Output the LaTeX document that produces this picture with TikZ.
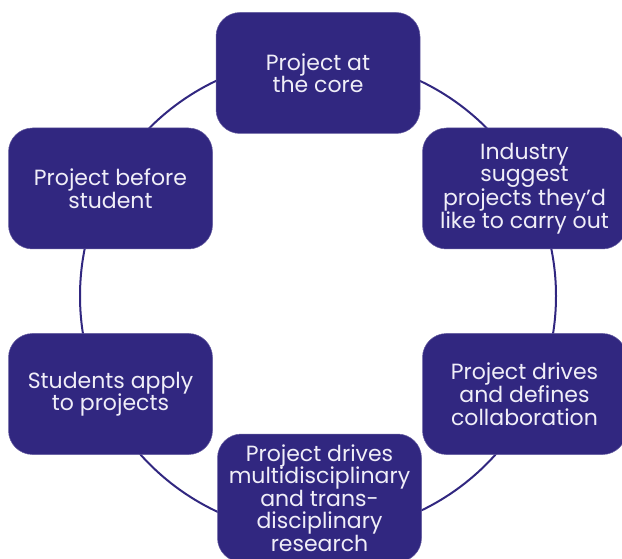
\documentclass[tikz,border=0pt]{standalone}
\usepackage{fontspec}
\setmainfont{Poppins}
\usetikzlibrary{positioning}
\definecolor{cyclepurple}{RGB}{49,39,128}
\definecolor{cyclelight}{RGB}{240,238,248}
\tikzstyle{stage} = [rectangle, rounded corners=24pt, minimum width=204pt, minimum height=121pt, inner sep=2pt, align=center, fill=cyclepurple, draw=cyclepurple!75!white, line width=0.5pt, text=cyclelight, font=\fontsize{22}{22.5}\selectfont]
\tikzstyle{ring} = [line width=2pt, color=cyclepurple]

\begin{document}
\begin{tikzpicture}[x=1pt, y=1pt]
\useasboundingbox (0,0) rectangle (622,558);
\clip (0,0) rectangle (622,558);

% the ring behind the stages
\coordinate (hub) at (318,262);
\draw[ring] (hub) circle (238);

% stages round the ring
\node[stage] (core) at (318,485) {Project at\\the core};
\node[stage] (industry) at (524.5,369.5) {Industry\\suggest\\projects they'd\\like to carry out};
\node[stage] (collab) at (524.5,164) {Project drives\\and defines\\collaboration};
\node[stage, minimum height=128pt] (research) at (319.5,60) {Project drives\\multidisciplinary\\and trans-\\disciplinary\\research};
\node[stage] (apply) at (110.5,164) {Students apply\\to projects};
\node[stage] (before) at (110.5,369.5) {Project before\\student};
\end{tikzpicture}
\end{document}
